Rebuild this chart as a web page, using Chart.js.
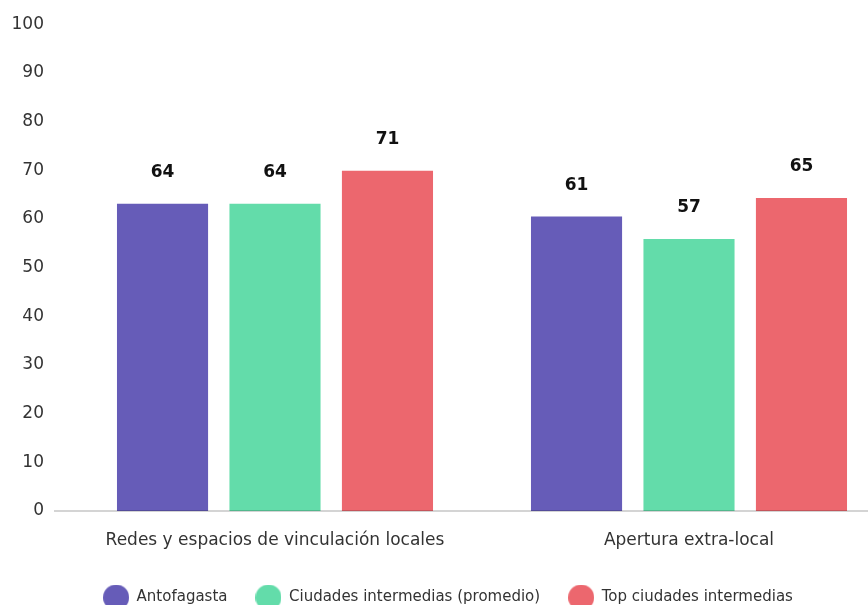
<!DOCTYPE html>
<html>
<head>
<meta charset="utf-8">
<script src="https://cdn.jsdelivr.net/npm/chart.js@4"></script>
<style>
    html, body { margin: 0; padding: 0; background: #fff; overflow: hidden; }
    #wrap { position: absolute; left: 0; top: -10px; width: 906px; height: 625px; }
</style>
</head>
<body>
<div id="wrap"><canvas id="chart"></canvas></div>
<script>
// ========== DATA ==========
const categories = ['Redes y espacios de vinculación locales', 'Apertura extra-local'];
const seriesNames = ['Antofagasta', 'Ciudades intermedias (promedio)', 'Top ciudades intermedias'];
const antofagasta = [63.1, 60.5];
const ciudadesPromedio = [63.1, 55.9];
const topCiudades = [69.9, 64.3];
const antofagastaLabels = ['64', '61'];
const ciudadesPromedioLabels = ['64', '57'];
const topCiudadesLabels = ['71', '65'];
const yTicks = [0, 10, 20, 30, 40, 50, 60, 70, 80, 90, 100];

const colors = ['#665cb8', '#63dcaa', '#ec676e'];
const FONT = '"DejaVu Sans", sans-serif';

// round legend markers, 26px across
const makeDot = (color) => {
    const c = document.createElement('canvas');
    c.width = 26;
    c.height = 26;
    const g = c.getContext('2d');
    g.fillStyle = color;
    g.beginPath();
    g.arc(13, 13, 13, 0, Math.PI * 2);
    g.fill();
    return c;
};
const dots = colors.map(makeDot);

// ========== PLUGINS ==========
const baseLine = {
    id: 'baseLine',
    afterDatasetsDraw(chart) {
        const { ctx, scales: { y }, chartArea } = chart;
        const py = y.getPixelForValue(0);
        ctx.save();
        ctx.strokeStyle = 'rgba(0,0,0,0.17)';
        ctx.lineWidth = 2;
        ctx.beginPath();
        ctx.moveTo(chartArea.left - 14, py);
        ctx.lineTo(chart.width, py);
        ctx.stroke();
        ctx.restore();
    }
};

const valueLabels = {
    id: 'valueLabels',
    afterDatasetsDraw(chart) {
        const { ctx } = chart;
        ctx.save();
        ctx.font = 'bold 17px ' + FONT;
        ctx.fillStyle = '#111';
        ctx.textAlign = 'center';
        ctx.textBaseline = 'middle';
        chart.data.datasets.forEach((ds, i) => {
            chart.getDatasetMeta(i).data.forEach((bar, j) => {
                ctx.fillText(ds.valueText[j], bar.x, bar.y - 31);
            });
        });
        ctx.restore();
    }
};

// ========== CHART ==========
const makeSet = (label, data, text, idx) => ({
    label: label,
    data: data,
    valueText: text,
    backgroundColor: colors[idx],
    pointStyle: dots[idx],
    barPercentage: 0.81,
    categoryPercentage: 0.815
});

new Chart(document.getElementById('chart'), {
    type: 'bar',
    data: {
        labels: categories,
        datasets: [
            makeSet(seriesNames[0], antofagasta, antofagastaLabels, 0),
            makeSet(seriesNames[1], ciudadesPromedio, ciudadesPromedioLabels, 1),
            makeSet(seriesNames[2], topCiudades, topCiudadesLabels, 2)
        ]
    },
    options: {
        responsive: true,
        maintainAspectRatio: false,
        animation: false,
        layout: { padding: { top: 12, right: 10, left: 0, bottom: 0 } },
        plugins: {
            legend: {
                position: 'bottom',
                labels: {
                    usePointStyle: true,
                    pointStyleWidth: 26,
                    padding: 28,
                    color: '#333',
                    font: { family: FONT, size: 15 }
                }
            },
            tooltip: { enabled: false }
        },
        scales: {
            x: {
                grid: { display: false, drawTicks: false },
                border: { display: false },
                ticks: {
                    color: '#333',
                    padding: 19,
                    font: { family: FONT, size: 17 }
                },
                afterFit: (scale) => { scale.height = 51; }
            },
            y: {
                min: 0,
                max: 100,
                grid: { display: false, drawTicks: false },
                border: { display: false },
                afterBuildTicks: (scale) => {
                    scale.ticks = yTicks.map(v => ({ value: v }));
                },
                ticks: {
                    color: '#333',
                    padding: 24,
                    font: { family: FONT, size: 17 }
                },
                afterFit: (scale) => { scale.width = 68; }
            }
        }
    },
    plugins: [baseLine, valueLabels]
});
</script>
</body>
</html>
